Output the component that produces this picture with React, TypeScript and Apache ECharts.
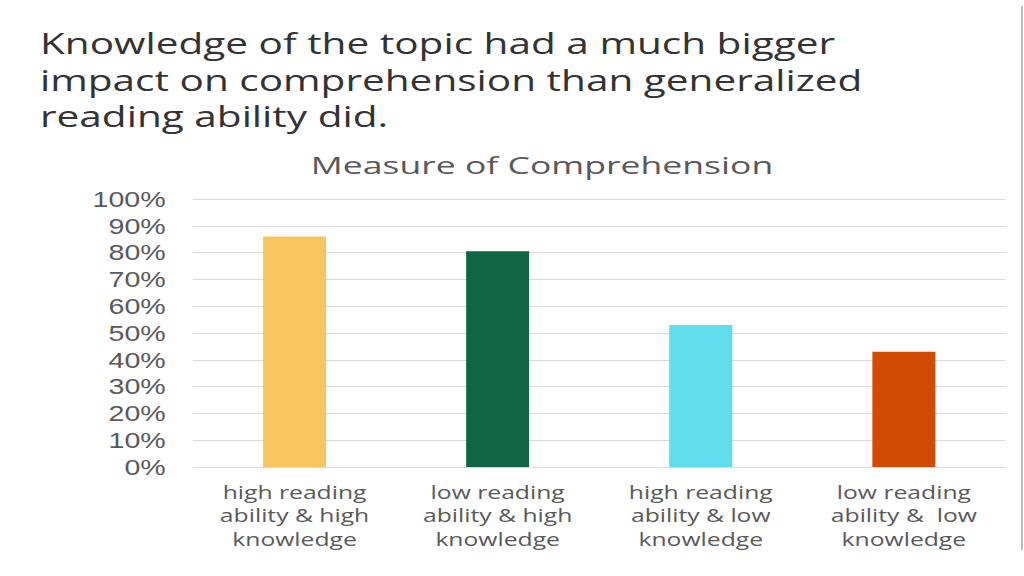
import React, { useEffect, useRef } from "react";
import * as echarts from "echarts";

const categories = [
  "high reading\nability & high\nknowledge",
  "low reading\nability & high\nknowledge",
  "high reading\nability & low\nknowledge",
  "low reading\nability &  low\nknowledge",
];
const values = [86, 80.5, 53, 43];
const barColors = ["#F9C55E", "#0F6645", "#5FDDEC", "#D24A04"];
const yTicks = { min: 0, max: 100, interval: 10 };
const headline =
  "Knowledge of the topic had a much bigger\nimpact on comprehension than generalized\nreading ability did.";
const chartTitle = "Measure of Comprehension";

const S = 1.3;
const W = 1024 / S;
const H = 576;

export default function App() {
  const ref = useRef<HTMLDivElement>(null);
  useEffect(() => {
    if (!ref.current) return;
    const chart = echarts.init(ref.current, null, { renderer: "svg" });
    chart.setOption({
      animation: false,
      backgroundColor: "#ffffff",
      graphic: [
        {
          type: "text",
          x: 40 / S,
          y: 24,
          scaleX: 1.04,
          style: {
            text: headline,
            font: "30px 'Open Sans'",
            fill: "#333333",
            lineHeight: 36.5,
            textAlign: "left",
            textVerticalAlign: "top",
          },
        },
        {
          type: "text",
          x: 542 / S,
          y: 153,
          scaleX: 1.14,
          style: {
            text: chartTitle,
            font: "24px 'Open Sans'",
            fill: "#595959",
            textAlign: "center",
            textVerticalAlign: "top",
          },
        },
        {
          type: "rect",
          shape: { x: 1021 / S, y: 6, width: 2 / S, height: 544 },
          style: { fill: "#bfbfbf" },
        },
      ],
      grid: {
        left: 193 / S,
        right: W - 1005 / S,
        top: 199,
        bottom: H - 467,
        containLabel: false,
      },
      xAxis: {
        type: "category",
        data: categories,
        axisLine: { show: true, lineStyle: { color: "#d9d9d9", width: 1 } },
        axisTick: { show: false },
        axisLabel: {
          color: "#595959",
          fontFamily: "Open Sans",
          fontSize: 19,
          lineHeight: 23.5,
          margin: 12,
          interval: 0,
        },
      },
      yAxis: {
        type: "value",
        min: yTicks.min,
        max: yTicks.max,
        interval: yTicks.interval,
        axisLine: { show: false },
        axisTick: { show: false },
        splitLine: { lineStyle: { color: "#d9d9d9", width: 1 } },
        axisLabel: {
          formatter: "{value}%",
          color: "#595959",
          fontFamily: "Liberation Sans",
          fontSize: 22,
          margin: 21,
        },
      },
      series: [
        {
          type: "bar",
          barWidth: "31%",
          data: values.map((v, i) => ({ value: v, itemStyle: { color: barColors[i] } })),
        },
      ],
    });
    return () => chart.dispose();
  }, []);
  return (
    <div
      style={{
        position: "absolute",
        left: 0,
        top: 0,
        width: 1024,
        height: 576,
        overflow: "hidden",
        background: "#fff",
      }}
    >
      <div
        ref={ref}
        style={{
          width: W,
          height: H,
          transform: `scale(${S}, 1)`,
          transformOrigin: "0 0",
        }}
      />
    </div>
  );
}
